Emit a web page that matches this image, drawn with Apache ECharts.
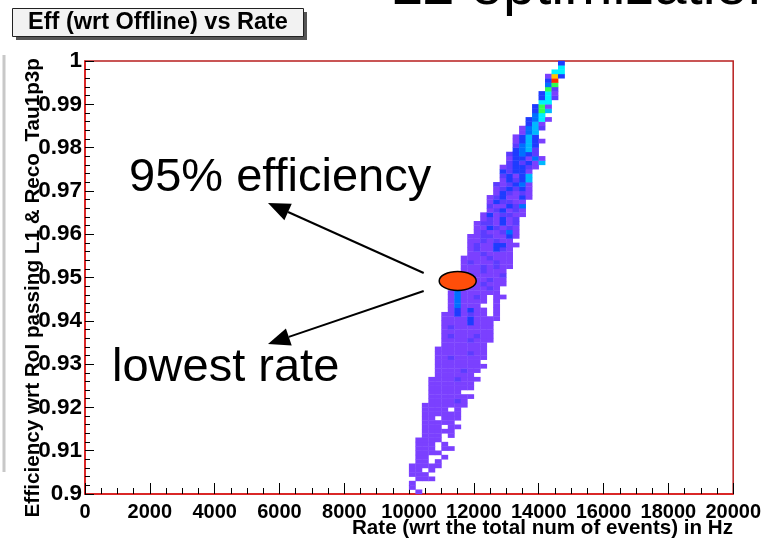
<!DOCTYPE html>
<html>
<head>
<meta charset="utf-8">
<script src="https://cdn.jsdelivr.net/npm/echarts@6/dist/echarts.min.js"></script>
<style>
  html, body { margin: 0; padding: 0; background: #fff; }
  #chart { width: 764px; height: 539px; }
</style>
</head>
<body>
<div id="chart"></div>
<script>
// Binning of the 2D histogram (100 x 100): rate in Hz, efficiency fraction
const RATE_BIN = 200;
const EFF_MIN = 0.9;
const EFF_BIN = 0.001;

// One entry per efficiency bin (0.900, 0.901, ... 0.999):
// first occupied rate bin and the per-bin entry counts from there on (0 = empty)
const rowStart = [
  51, 50, 50, 50, 50, 50, 50, 51, 51, 51,
  51, 51, 51, 52, 52, 52, 52, 52, 52, 52,
  52, 53, 53, 53, 53, 53, 53, 54, 54, 54,
  54, 54, 54, 54, 55, 55, 55, 55, 55, 55,
  55, 55, 56, 56, 56, 56, 56, 57, 57, 57,
  57, 58, 58, 58, 58, 59, 59, 59, 59, 59,
  60, 60, 60, 61, 61, 62, 62, 62, 62, 63,
  63, 63, 64, 64, 64, 64, 65, 65, 65, 66,
  66, 66, 66, 67, 67, 68, 68, 69, 69, 69,
  70, 70, 70, 71, 71, 71, 71, 72, 73, 73
];
const rowCounts = [
  "1", "1", "1", "0111", "111", "1101", "11111", "1101", "11001", "1111",
  "111011", "11101", "1111", "11101", "11111", "111011", "11111", "110111", "111111", "111101",
  "1111111", "111121", "1111111", "111110", "1111111", "1111111", "11112111", "111111", "1111211", "11111111",
  "1111111", "11211111", "11111211", "11111111", "1111111", "11112111", "12111211", "11111111", "12111111", "11113111",
  "111131111", "113121101", "13131101", "14111001", "14111101", "141121011", "14111111", "4111121", "31112111", "21111211",
  "11211112", "1112111", "11121211", "12111211", "11112111", "1121111", "1211321", "12113311", "1121211", "11221131",
  "1211241", "1132121", "1221312", "121312", "1312211", "123121", "211324", "132211", "1231131", "132121",
  "123231", "212341", "13235", "23135", "32331", "123321", "232315", "133141", "23432", "3452",
  "2453", "13531", "1353", "145", "1452", "351", "3461", "46", "375", "371",
  "66", "362", "361", "72", "47", "39", "183", "66", "6", "3"
];

// Axis ticks
const rateTicks = [0, 2000, 4000, 6000, 8000, 10000, 12000, 14000, 16000, 18000, 20000];
const effTicks = [0.9, 0.91, 0.92, 0.93, 0.94, 0.95, 0.96, 0.97, 0.98, 0.99, 1];

// Working point highlighted on the plot
const workingPoint = [11500, 0.9492];

// Colour palette by bin content (violet -> blue -> cyan -> green -> yellow -> red)
const paletteColors = ['#7b40ff', '#5c3cff', '#1e3cff', '#0070ff', '#00b8ff', '#00f0ff', '#30ff50', '#ffc000', '#ff2a00'];

// Build cells: [rate at bin centre, efficiency at bin centre, content]
const cells = [];
rowStart.forEach((start, row) => {
  const counts = rowCounts[row];
  for (let i = 0; i < counts.length; i++) {
    const c = Number(counts[i]);
    if (c > 0) {
      cells.push([(start + i + 0.5) * RATE_BIN, EFF_MIN + (row + 0.5) * EFF_BIN, c]);
    }
  }
});

const chart = echarts.init(document.getElementById('chart'), null, { renderer: 'canvas' });

const labelFont = '"Liberation Sans", Arial, Helvetica, sans-serif';

chart.setOption({
  animation: false,
  backgroundColor: '#ffffff',
  grid: {
    left: 85, right: 29, top: 61, bottom: 45,
    show: true, borderColor: '#b81e1e', borderWidth: 1.5, backgroundColor: 'transparent'
  },
  xAxis: {
    type: 'value',
    min: rateTicks[0], max: rateTicks[rateTicks.length - 1], interval: 2000,
    axisLine: { show: true, lineStyle: { color: '#e01818', width: 1.5 } },
    axisTick: { show: true, inside: true, length: 11, lineStyle: { color: '#000', width: 1 } },
    minorTick: { show: true, splitNumber: 4, length: 6, lineStyle: { color: '#000', width: 1 } },
    splitLine: { show: false },
    axisLabel: {
      show: true, margin: 8, color: '#000', fontSize: 20, fontWeight: 'bold', fontFamily: labelFont,
      formatter: v => String(Math.round(v))
    }
  },
  yAxis: {
    type: 'value',
    min: effTicks[0], max: effTicks[effTicks.length - 1], interval: 0.01,
    axisLine: { show: true, lineStyle: { color: '#e01818', width: 1.5 } },
    axisTick: { show: true, inside: true, length: 9, lineStyle: { color: '#000', width: 1 } },
    minorTick: { show: true, splitNumber: 5, length: 5, lineStyle: { color: '#000', width: 1 } },
    splitLine: { show: false },
    axisLabel: {
      show: true, margin: 3, color: '#000', fontSize: 22.5, fontWeight: 'bold', fontFamily: labelFont,
      formatter: v => String(+v.toFixed(2))
    }
  },
  series: []
});

// Cell size in pixels, taken from the axis scales
const o = chart.convertToPixel({ gridIndex: 0 }, [0, EFF_MIN]);
const d = chart.convertToPixel({ gridIndex: 0 }, [RATE_BIN, EFF_MIN + EFF_BIN]);
const cellW = Math.abs(d[0] - o[0]) + 0.4;
const cellH = Math.abs(o[1] - d[1]) + 0.4;

chart.setOption({
  series: [{
    type: 'scatter',
    data: cells,
    symbol: 'rect',
    symbolSize: [cellW, cellH],
    silent: true,
    emphasis: { disabled: true },
    itemStyle: {
      opacity: 1,
      color: p => paletteColors[Math.min(p.value[2], paletteColors.length) - 1]
    }
  }]
});

// Annotations: working-point marker, arrows and callout text
const wp = chart.convertToPixel({ gridIndex: 0 }, workingPoint);

function arrow(x1, y1, x2, y2) {
  const ang = Math.atan2(y2 - y1, x2 - x1);
  const len = 22, half = 9;
  const bx = x2 - len * Math.cos(ang), by = y2 - len * Math.sin(ang);
  const nx = -Math.sin(ang), ny = Math.cos(ang);
  return [
    { type: 'line', z: 100, shape: { x1, y1, x2: bx, y2: by }, style: { stroke: '#000', lineWidth: 2 } },
    { type: 'polygon', z: 100, shape: { points: [[x2, y2], [bx + nx * half, by + ny * half], [bx - nx * half, by - ny * half]] }, style: { fill: '#000' } }
  ];
}

const callFont = '"Liberation Sans", Arial, Helvetica, sans-serif';

chart.setOption({
  graphic: [
    // slide heading, mostly above the visible area
    { type: 'text', x: 390, y: -41, style: { text: 'L2 optimization', fontSize: 58, fontFamily: callFont, fill: '#000', align: 'left', verticalAlign: 'top' } },
    // slide frame edge
    { type: 'line', shape: { x1: 4, y1: 55, x2: 4, y2: 472 }, style: { stroke: '#c8c8c8', lineWidth: 3 } },
    // title box with shadow
    { type: 'rect', shape: { x: 16, y: 12, width: 291, height: 28 }, style: { fill: '#555' } },
    { type: 'rect', shape: { x: 12.5, y: 8.5, width: 291, height: 28 }, style: { fill: '#f2f2f2', stroke: '#222', lineWidth: 1 } },
    { type: 'text', x: 158, y: 23, style: { text: 'Eff (wrt Offline) vs Rate', fontSize: 23.5, fontWeight: 'bold', fontFamily: labelFont, fill: '#000', align: 'center', verticalAlign: 'middle' } },
    // axis titles
    { type: 'text', x: 733, y: 528, style: { text: 'Rate (wrt the total num of events) in Hz', fontSize: 20.6, fontWeight: 'bold', fontFamily: labelFont, fill: '#000', align: 'right', verticalAlign: 'middle' } },
    { type: 'text', x: 33, y: 58, rotation: Math.PI / 2, style: { text: 'Efficiency wrt RoI passing L1 & Reco_Tau1p3p', fontSize: 20.7, fontWeight: 'bold', fontFamily: labelFont, fill: '#000', align: 'right', verticalAlign: 'middle' } },
    // callouts
    { type: 'text', z: 100, x: 129, y: 155, style: { text: '95% efficiency', fontSize: 47, fontFamily: callFont, fill: '#000', align: 'left', verticalAlign: 'top' } },
    { type: 'text', z: 100, x: 112, y: 345, style: { text: 'lowest rate', fontSize: 47, fontFamily: callFont, fill: '#000', align: 'left', verticalAlign: 'top' } },
    ...arrow(wp[0] - 34, wp[1] - 8, 268, 203),
    ...arrow(wp[0] - 34, wp[1] + 10, 268, 344),
    { type: 'ellipse', z: 101, shape: { cx: wp[0], cy: wp[1], rx: 18.5, ry: 9.5 }, style: { fill: '#ff4e0a', stroke: '#000', lineWidth: 1.5 } }
  ]
});
</script>
</body>
</html>
